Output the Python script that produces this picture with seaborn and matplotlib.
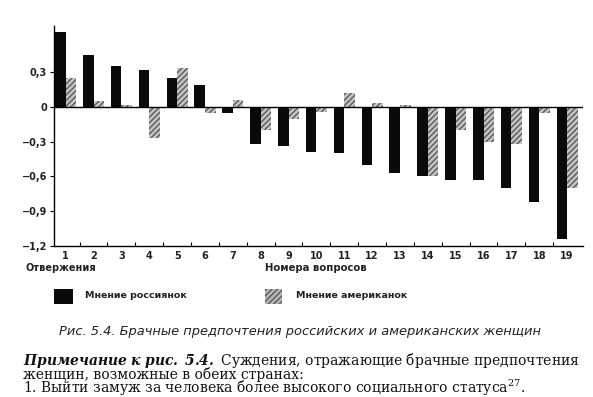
import matplotlib
matplotlib.use("Agg")
import matplotlib.pyplot as plt
import seaborn as sns
import pandas as pd
import numpy as np
from matplotlib.patches import Rectangle

questions = [str(i) for i in range(1, 20)]
russian = [0.65, 0.45, 0.35, 0.32, 0.25, 0.19, -0.05, -0.32, -0.34, -0.39,
           -0.40, -0.50, -0.57, -0.60, -0.635, -0.635, -0.70, -0.82, -1.14]
american = [0.25, 0.05, 0.02, -0.27, 0.335, -0.05, 0.06, -0.20, -0.10, -0.04,
            0.12, 0.03, 0.02, -0.60, -0.20, -0.30, -0.32, -0.05, -0.70]
series_names = ["Мнение россиянок", "Мнение американок"]
yticks = [-1.2, -0.9, -0.6, -0.3, 0, 0.3]

df = pd.DataFrame({
    "q": questions * 2,
    "v": russian + american,
    "s": [series_names[0]] * 19 + [series_names[1]] * 19,
})

sns.set_style("white")
plt.rcParams["font.family"] = ["DejaVu Sans"]
plt.rcParams["mathtext.fontset"] = "dejavuserif"

fig = plt.figure(figsize=(5.93, 3.97), dpi=100)
W, H = 593, 397
ax = fig.add_axes([54 / W, 1 - 245.7 / H, (583 - 54) / W, (245.7 - 26) / H])

sns.barplot(data=df, x="q", y="v", hue="s", order=questions,
            hue_order=series_names, palette=["#0a0a0a", "#c4c4c4"],
            width=0.76, ax=ax, legend=False, saturation=1)

n = len(questions)
for i, p in enumerate(ax.patches):
    if i >= n:
        p.set_hatch("//////")
        p.set_edgecolor("#5a5a5a")
        p.set_linewidth(0)
    else:
        p.set_edgecolor("#0a0a0a")
        p.set_linewidth(0)

ax.set_ylim(-1.2, 0.7)
ax.set_xlim(-0.42, 18.57)
ax.axhline(0, color="black", lw=1.0, zorder=5)
for s in ["top", "right"]:
    ax.spines[s].set_visible(False)
for s in ["left", "bottom"]:
    ax.spines[s].set_color("black")
    ax.spines[s].set_linewidth(1.0)

tick_font = dict(fontsize=7, fontweight="bold", color="#222")
ax.set_yticks(yticks)
ax.set_yticklabels([("−" if t < 0 else "") + f"{abs(t):.1f}".replace(".", ",") if t != 0 else "0"
                    for t in yticks], **tick_font)
ax.tick_params(axis="y", direction="out", length=3, width=0.8, color="black", pad=2, left=True)
ax.set_xticks(range(n))
ax.set_xticklabels(questions, **tick_font)
ax.tick_params(axis="x", length=0, pad=3.5)
ax.set_xticks(np.arange(0.5, n - 0.5, 1), minor=True)
ax.tick_params(axis="x", which="minor", direction="in", length=3, width=0.8, color="black", bottom=True)
ax.set_xlabel("")
ax.set_ylabel("")

fig.text(25 / W, 1 - 268 / H, "Отвержения", fontsize=7.0, fontweight="bold", color="#222", va="center")
fig.text(265 / W, 1 - 268 / H, "Номера вопросов", fontsize=7.3, fontweight="bold", color="#222", va="center")

# legend
fig.patches.append(Rectangle((54 / W, 1 - 304 / H), 19 / W, 15 / H, transform=fig.transFigure,
                             facecolor="#0a0a0a", edgecolor="none"))
fig.patches.append(Rectangle((265 / W, 1 - 304 / H), 17 / W, 15 / H, transform=fig.transFigure,
                             facecolor="#b8b8b8", edgecolor="#5a5a5a", hatch="//////", lw=0))
fig.text(85 / W, 1 - 296 / H, series_names[0], fontsize=6.8, fontweight="bold", color="#222", va="center")
fig.text(296 / W, 1 - 296 / H, series_names[1], fontsize=6.8, fontweight="bold", color="#222", va="center")

fig.text(300 / W, 1 - 331 / H, "Рис. 5.4. Брачные предпочтения российских и американских женщин",
         fontsize=9.4, style="italic", color="#222", ha="center", va="center")

note = ("$\\mathbfit{Примечание\\ к\\ рис.\\ 5.4.}$ Суждения, отражающие брачные предпочтения\n"
        "женщин, возможные в обеих странах:\n"
        "1. Выйти замуж за человека более высокого социального статуса$^{27}$.")
fig.text(23 / W, 1 - 351 / H, note, family=["DejaVu Serif"], fontsize=10,
         va="top", ha="left", linespacing=0.72, color="#111")

fig.savefig("out.png", dpi=100)
